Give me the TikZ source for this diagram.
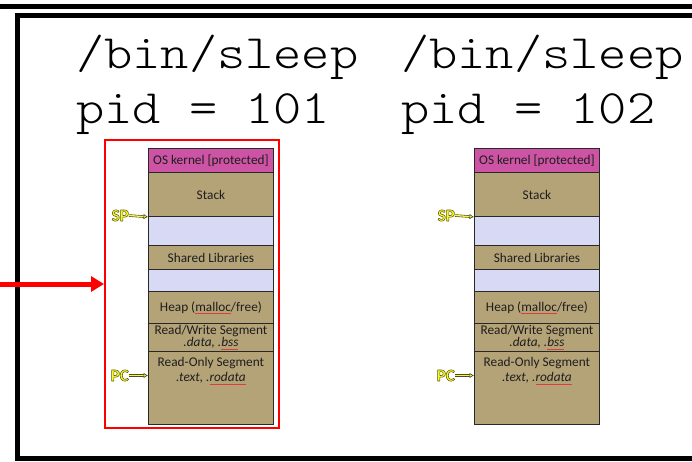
\documentclass[tikz,border=0pt]{standalone}
\usepackage{fontspec}
\setmainfont{Carlito}
\newfontfamily\titlefont[FakeStretch=1.12]{Latin Modern Mono Light}
\usetikzlibrary{arrows.meta,calc}

\definecolor{kernelpink}{RGB}{205,84,164}
\definecolor{segtan}{RGB}{181,163,120}
\definecolor{freeblue}{RGB}{216,218,245}
\definecolor{segline}{RGB}{40,40,40}
\definecolor{segtext}{RGB}{30,30,30}
\definecolor{glowfill}{RGB}{250,250,40}
\definecolor{spellred}{RGB}{225,60,60}

% word with a red spell-check underline
\newlength\sqw
\newcommand\squig[1]{\settowidth\sqw{#1}\rlap{\color{spellred}\rule[-2.5pt]{\sqw}{0.5pt}}#1}

% yellow register label, letters filled and stroked with a dark rim
\newcommand\glow[1]{{\color{glowfill}%
  \special{pdf:literal direct 0.35 0.35 0.05 RG 0.55 w 1 j 2 Tr}#1%
  \special{pdf:literal direct 0 Tr}}}

\tikzset{
  seg/.style={draw=segline, line width=0.9pt, minimum width=125pt, inner sep=0pt,
    anchor=north west, text=segtext, font=\fontsize{13.3}{12}\selectfont, align=center},
  segtxt/.style={text=segtext, font=\fontsize{13.3}{12}\selectfont, align=center, inner sep=0pt},
  regtag/.style={font=\fontsize{17}{17}\selectfont\bfseries, inner sep=0pt, anchor=east},
  regptr/.style={draw=black!60!olive, line width=0.6pt, double=glowfill, double distance=1.3pt,
    -{Latex[length=4.5pt,width=5.5pt,fill=glowfill]}},
  title/.style={font=\titlefont\fontsize{48}{54}\selectfont, inner sep=0pt, anchor=base west},
}

% one process address space; #1 = name prefix, #2 = left edge
\newcommand\memmap[2]{%
  \node[seg, fill=kernelpink, minimum height=24pt] (#1kern) at (#2,148) {OS kernel [protected]};
  \node[seg, fill=segtan, minimum height=44pt] (#1stack) at (#2,172) {Stack};
  \node[seg, fill=freeblue, minimum height=29pt] (#1gapa) at (#2,216) {};
  \node[seg, fill=segtan, minimum height=24pt] (#1shlib) at (#2,245) {Shared Libraries};
  \node[seg, fill=freeblue, minimum height=22pt] (#1gapb) at (#2,269) {};
  \node[seg, fill=segtan, minimum height=32pt] (#1heap) at (#2,291) {Heap (\squig{malloc}/free)};
  \node[seg, fill=segtan, minimum height=28pt] (#1rw) at (#2,323)
    {Read/Write Segment\\\textit{.data, .\squig{bss}}};
  \node[seg, fill=segtan, minimum height=73pt] (#1ro) at (#2,351) {};
  \node[segtxt, anchor=north] (#1rotext) at ($(#1ro.north)+(0,6.5)$)
    {Read-Only Segment\\[3pt]\textit{.text, .\squig{rodata}}};
  \node[regtag] (#1sp) at (#2-19,215.5) {\glow{SP}};
  \node[regtag] (#1pc) at (#2-19,375.5) {\glow{PC}};
  \draw[regptr] (#1sp.east) -- (#1stack.south west);
  \draw[regptr] (#1pc.east) -- (#1ro.west |- #1pc.east);
}

\begin{document}
\begin{tikzpicture}[x=1pt,y=-1pt]
\useasboundingbox (0,0) rectangle (692,461);

% window frames
\draw[line width=5pt] (0,6.5) -- (692,6.5);
\draw[line width=5pt, line join=miter] (720,15) -- (17.5,15) -- (17.5,458) -- (720,458);

% process titles
\node[title] (cmda) at (76,68) {/bin/sleep};
\node[title] (pida) at (76,123) {pid = 101};
\node[title] (cmdb) at (401,68) {/bin/sleep};
\node[title] (pidb) at (401,123) {pid = 102};

% address spaces
\memmap{a}{148}
\memmap{b}{474}

% highlighted process
\node[draw=red, line width=2pt, minimum width=174pt, minimum height=288pt,
  inner sep=0pt, anchor=north west] (focus) at (104,139) {};
\coordinate (feed) at (0,284);
\draw[red, line width=5pt, -{Triangle[length=13pt,width=15pt]}] (feed) -- (focus.west);
\end{tikzpicture}
\end{document}
